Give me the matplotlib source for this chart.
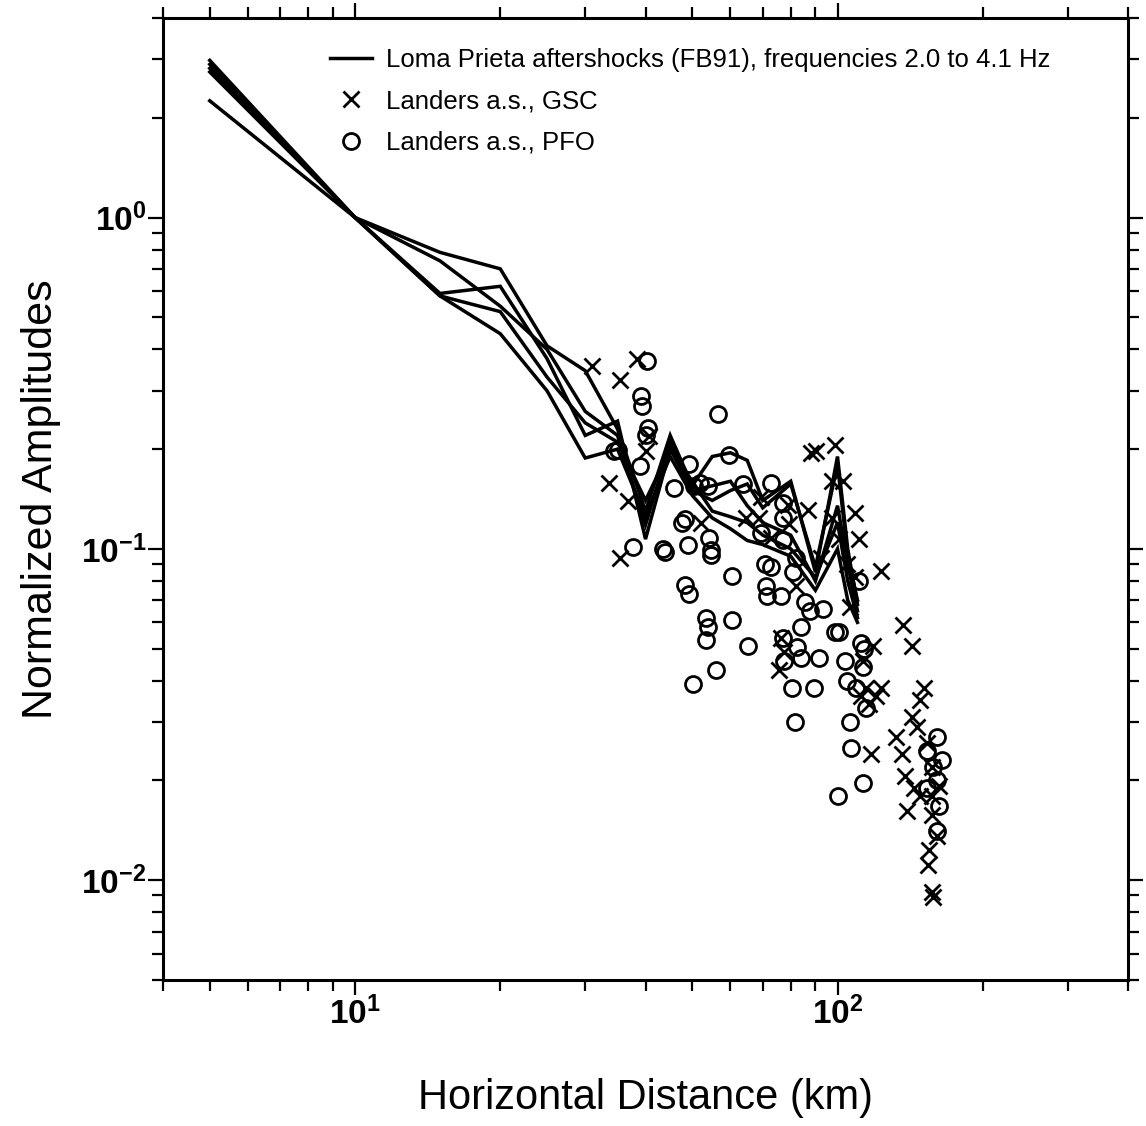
import matplotlib
matplotlib.use("Agg")
import matplotlib.pyplot as plt
import numpy as np

plt.rcParams['font.family'] = ['Liberation Sans', 'DejaVu Sans']
plt.rcParams['mathtext.fontset'] = 'custom'
plt.rcParams['mathtext.rm'] = 'Liberation Sans'
plt.rcParams['mathtext.it'] = 'Liberation Sans:italic'
plt.rcParams['mathtext.bf'] = 'Liberation Sans:bold'

# ---- Loma Prieta aftershock curves (FB91), frequencies 2.0-4.1 Hz ----
lp_dist = [5, 10, 15, 20, 25, 30, 35, 40, 45, 50, 55, 60, 65, 70, 80, 90, 100, 105, 110]
lp_curve1 = [2.98, 1.0, 0.785, 0.70, 0.41, 0.345, 0.23, 0.13, 0.22, 0.155, 0.19, 0.195, 0.185, 0.14, 0.16, 0.085, 0.19, 0.10, 0.068]
lp_curve2 = [2.90, 1.0, 0.74, 0.54, 0.40, 0.26, 0.22, 0.118, 0.21, 0.15, 0.14, 0.15, 0.157, 0.133, 0.157, 0.088, 0.18, 0.095, 0.07]
lp_curve3 = [2.82, 1.0, 0.59, 0.62, 0.375, 0.22, 0.243, 0.107, 0.20, 0.15, 0.155, 0.16, 0.135, 0.12, 0.11, 0.08, 0.135, 0.09, 0.065]
lp_curve4 = [2.75, 1.0, 0.58, 0.446, 0.30, 0.188, 0.20, 0.125, 0.19, 0.145, 0.124, 0.115, 0.106, 0.103, 0.095, 0.075, 0.10, 0.07, 0.06]
lp_curve5 = [2.25, 1.0, 0.58, 0.52, 0.33, 0.24, 0.21, 0.14, 0.20, 0.16, 0.13, 0.125, 0.12, 0.11, 0.10, 0.082, 0.12, 0.08, 0.062]

# ---- Landers aftershocks, GSC ----
gsc_dist = [31.0, 35.4, 38.5, 33.6, 36.8, 35.4, 40.1, 40.7, 88.3, 90.4, 99.0, 97.2, 102.9, 79.1, 87.0, 79.5,
            100.9, 108.9, 111.0, 123.3, 104.4, 68.9, 72.9, 76.5, 77.6, 75.8, 105.9, 108.9, 113.2, 118.7,
            114.8, 116.4, 123.3, 120.4, 137.0, 142.4, 132.5, 135.8, 137.7, 139.0, 142.4, 145.9, 150.8, 147.9,
            153.0, 143.8, 147.9, 156.7, 156.7, 156.7, 155.0, 154.0, 156.7, 158.0, 160.5, 162.4, 52.2, 64.7,
            69.5, 92.6, 97.2, 82.2, 112.1, 117.6]
gsc_amp = [0.357, 0.323, 0.375, 0.158, 0.139, 0.094, 0.198, 0.219, 0.195, 0.197, 0.206, 0.160, 0.160, 0.136, 0.131, 0.119,
           0.107, 0.128, 0.107, 0.086, 0.090, 0.124, 0.108, 0.054, 0.049, 0.043, 0.067, 0.082, 0.046, 0.051,
           0.038, 0.034, 0.038, 0.036, 0.059, 0.051, 0.027, 0.024, 0.0206, 0.0162, 0.031, 0.029, 0.038, 0.035,
           0.026, 0.019, 0.018, 0.022, 0.018, 0.0157, 0.0123, 0.0111, 0.0092, 0.0089, 0.0136, 0.0193, 0.120, 0.124,
           0.143, 0.094, 0.124, 0.077, 0.036, 0.024]

# ---- Landers aftershocks, PFO ----
pfo_dist = [40.3, 39.2, 39.4, 40.5, 40.0, 35.0, 38.9, 56.6, 49.3, 59.7, 37.7, 43.5, 43.9, 48.2, 48.9, 48.4,
            49.3, 54.1, 54.8, 54.8, 53.5, 54.0, 53.5, 50.1, 56.0, 60.3, 60.3, 65.1, 63.8, 72.9, 70.6, 71.2,
            71.5, 77.0, 77.0, 77.0, 76.5, 77.0, 77.6, 81.8, 80.3, 82.6, 84.2, 85.5, 87.8, 84.2, 89.2, 91.7,
            93.5, 98.6, 100.9, 103.4, 100.0, 105.9, 104.4, 109.4, 112.1, 113.7, 110.8, 113.2, 114.8, 113.2,
            106.9, 153.0, 160.5, 153.0, 158.0, 162.4, 160.5, 164.4, 160.5, 69.5, 72.9, 81.0, 82.2, 45.8,
            50.4, 51.8, 54.0, 47.5, 34.4]
pfo_amp = [0.37, 0.289, 0.27, 0.231, 0.22, 0.199, 0.178, 0.255, 0.18, 0.192, 0.101, 0.10, 0.098, 0.123, 0.103, 0.078,
           0.073, 0.108, 0.099, 0.096, 0.062, 0.058, 0.053, 0.039, 0.043, 0.083, 0.061, 0.051, 0.157, 0.158, 0.090, 0.077,
           0.072, 0.138, 0.124, 0.106, 0.072, 0.054, 0.046, 0.030, 0.038, 0.0507, 0.058, 0.069, 0.065, 0.047, 0.038, 0.047,
           0.066, 0.056, 0.056, 0.046, 0.018, 0.030, 0.040, 0.038, 0.052, 0.050, 0.080, 0.044, 0.033, 0.0196,
           0.025, 0.0245, 0.027, 0.019, 0.022, 0.0168, 0.0141, 0.023, 0.020, 0.112, 0.088, 0.085, 0.094, 0.153,
           0.155, 0.158, 0.155, 0.12, 0.197]

x_ticks = [10, 100]
x_ticklabels = [r'$\mathbf{10^{1}}$', r'$\mathbf{10^{2}}$']
y_ticks = [1, 0.1, 0.01]
y_ticklabels = [r'$\mathbf{10^{0}}$', r'$\mathbf{10^{-1}}$', r'$\mathbf{10^{-2}}$']

W, H = 1146, 1126
fig = plt.figure(figsize=(W / 100, H / 100), dpi=100)
ax = fig.add_axes([163 / W, 1 - 980 / H, (1128 - 163) / W, (980 - 18) / H])

lw = 2.5
for i, c in enumerate([lp_curve1, lp_curve2, lp_curve3, lp_curve4, lp_curve5]):
    ax.plot(lp_dist, c, color='black', lw=lw, solid_joinstyle='miter',
            label='Loma Prieta aftershocks (FB91), frequencies 2.0 to 4.1 Hz' if i == 0 else None, zorder=3)

ax.plot(gsc_dist, gsc_amp, linestyle='none', marker='x', markersize=11, mew=2.0, color='black',
        label='Landers a.s., GSC', zorder=4)
ax.plot(pfo_dist, pfo_amp, linestyle='none', marker='o', markersize=11.5, mew=2.0, mfc='none', mec='black',
        label='Landers a.s., PFO', zorder=4)

ax.set_xscale('log')
ax.set_yscale('log')
ax.set_xlim(4, 400)
ax.set_ylim(0.005, 4)

for s in ax.spines.values():
    s.set_linewidth(2.2)

ax.tick_params(which='both', direction='out', top=True, right=True, width=1.6, labelsize=24)
ax.tick_params(axis='y', which='both', pad=1)
ax.tick_params(axis='x', which='both', pad=1)
ax.tick_params(which='major', length=11)
ax.tick_params(which='minor', length=8)
ax.set_xticks(x_ticks)
ax.set_xticklabels(x_ticklabels)
ax.set_yticks(y_ticks)
ax.set_yticklabels(y_ticklabels)
ax.xaxis.set_minor_locator(matplotlib.ticker.LogLocator(base=10, subs=np.arange(2, 10)))
ax.yaxis.set_minor_locator(matplotlib.ticker.LogLocator(base=10, subs=np.arange(2, 10)))
ax.xaxis.set_minor_formatter(matplotlib.ticker.NullFormatter())
ax.yaxis.set_minor_formatter(matplotlib.ticker.NullFormatter())

ax.set_xlabel('Horizontal Distance (km)', fontsize=30, labelpad=34)
ax.set_ylabel('Normalized Amplitudes', fontsize=31, labelpad=14)

ax.legend(loc='upper left', bbox_to_anchor=(0.173, 0.969), frameon=False, fontsize=18.5,
          handlelength=1.65, handletextpad=0.55, labelspacing=0.68, borderpad=0, borderaxespad=0)

fig.savefig('out.png', dpi=100)
